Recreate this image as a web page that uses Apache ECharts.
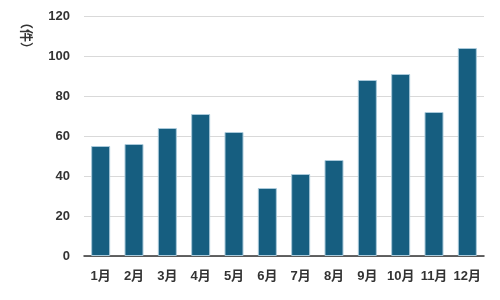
<!DOCTYPE html>
<html><head><meta charset="utf-8">
<script src="https://cdn.jsdelivr.net/npm/echarts@6/dist/echarts.min.js"></script>
<style>html,body{margin:0;padding:0;background:#fff}#c{width:500px;height:300px}</style>
</head><body><div id="c"></div>
<script>
const categories = ['1月','2月','3月','4月','5月','6月','7月','8月','9月','10月','11月','12月'];
const values = [55, 56, 64, 71, 62, 34, 41, 48, 88, 91, 72, 104];
const yTicks = [0, 20, 40, 60, 80, 100, 120];
const unitLabel = '（件）';

const chart = echarts.init(document.getElementById('c'), null, {renderer:'canvas'});
const font = '"Liberation Sans", "Noto Sans CJK JP", sans-serif';
chart.setOption({
  animation: false,
  grid: {left: 84, right: 16, top: 16, bottom: 44},
  xAxis: {
    type: 'category', data: categories,
    axisLine: {lineStyle: {color: '#333', width: 1.5}},
    axisTick: {show: false},
    axisLabel: {color: '#333', fontWeight: 'bold', fontSize: 13, fontFamily: font, margin: 14, interval: 0}
  },
  yAxis: {
    type: 'value', min: yTicks[0], max: yTicks[yTicks.length-1], interval: 20,
    axisLine: {show: false}, axisTick: {show: false},
    splitLine: {lineStyle: {color: '#d9d9d9', width: 1}},
    axisLabel: {color: '#333', fontWeight: 'bold', fontSize: 13, fontFamily: font, margin: 14}
  },
  graphic: [{
    type: 'text', left: 20, top: 16, rotation: -Math.PI/2, originX: 0, originY: 0,
    style: {text: unitLabel, fill: '#333', font: 'bold 13px "Noto Sans CJK JP", sans-serif'}
  }],
  series: [{
    type: 'bar', data: values, barWidth: 19,
    itemStyle: {color: '#165E80', borderColor: '#a9c9da', borderWidth: 1}
  }]
});
</script></body></html>
